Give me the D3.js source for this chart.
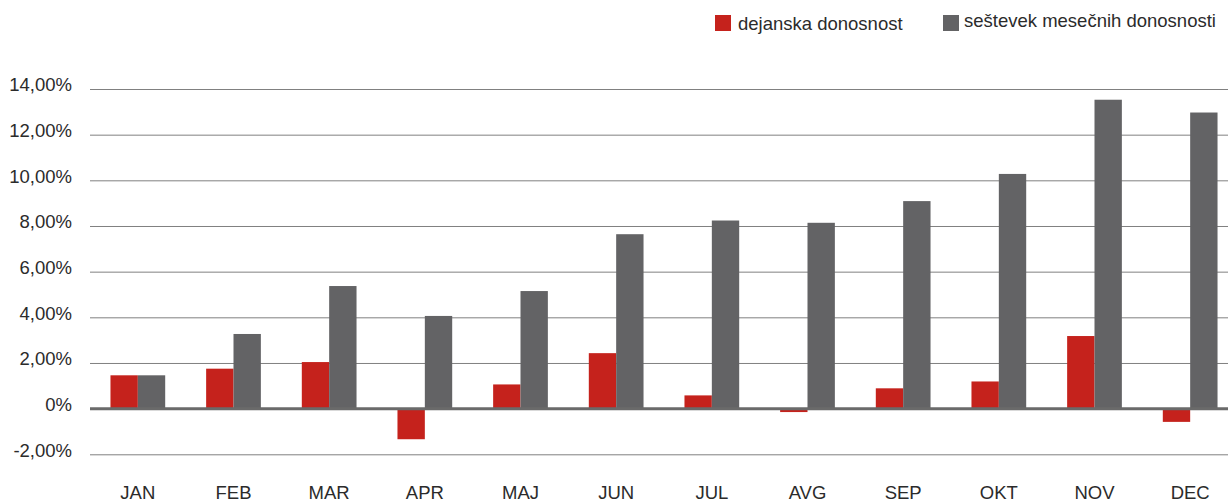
<!DOCTYPE html>
<html>
<head>
<meta charset="utf-8">
<script src="https://cdn.jsdelivr.net/npm/d3@7"></script>
<style>
  body { margin: 0; background: #fff; }
  text { font-family: "Liberation Sans", Arial, sans-serif; fill: #2b2b2b; }
</style>
</head>
<body>
<div id="chart-area"></div>
<script>
// data
var months = ["JAN", "FEB", "MAR", "APR", "MAJ", "JUN", "JUL", "AVG", "SEP", "OKT", "NOV", "DEC"];
var actual = [1.46, 1.75, 2.04, -1.34, 1.06, 2.43, 0.58, -0.15, 0.89, 1.19, 3.18, -0.58];
var summed = [1.46, 3.27, 5.37, 4.06, 5.15, 7.64, 8.24, 8.14, 9.09, 10.28, 13.53, 12.97];
var seriesNames = ["dejanska donosnost", "seštevek mesečnih donosnosti"];
var colors = ["#c5221c", "#636365"];
var yTicks = [-2, 0, 2, 4, 6, 8, 10, 12, 14];

var width = 1228;
var height = 503;
var left = 90;
var right = 1238;

var svg = d3.select("#chart-area").append("svg")
    .attr("width", width)
    .attr("height", height);

var x = d3.scaleBand()
    .domain(months)
    .range([left, right])
    .paddingInner(0.428)
    .paddingOuter(0.214);

var xs = d3.scaleBand()
    .domain([0, 1])
    .range([0, x.bandwidth()]);

var y = d3.scaleLinear()
    .domain([-2, 14])
    .range([454.3, 89]);

// y Axis + gridlines
var yAxisCall = d3.axisLeft(y)
    .tickValues(yTicks)
    .tickSize(-(right - left))
    .tickPadding(18)
    .tickFormat((d) => d === 0 ? "0%" : d.toFixed(2).replace(".", ",") + "%");

var yAxis = svg.append("g")
    .attr("class", "y axis")
    .attr("transform", "translate(" + left + ", 0)")
    .call(yAxisCall);

yAxis.select(".domain").remove();
yAxis.selectAll(".tick line")
    .attr("stroke", "#808080")
    .attr("stroke-width", 1);
yAxis.selectAll(".tick text")
    .attr("y", -4)
    .style("font-size", "18.5px")
    .style("fill", "#2b2b2b");

// bars
var groups = svg.selectAll("g.month")
    .data(months)
    .enter().append("g")
        .attr("class", "month")
        .attr("transform", (d) => "translate(" + x(d) + ", 0)");

groups.selectAll("rect")
    .data((d, i) => [actual[i], summed[i]])
    .enter().append("rect")
        .attr("x", (d, j) => xs(j))
        .attr("y", (d) => y(Math.max(0, d)))
        .attr("width", xs.bandwidth())
        .attr("height", (d) => Math.abs(y(d) - y(0)))
        .attr("fill", (d, j) => colors[j]);

// zero line
svg.append("line")
    .attr("x1", left)
    .attr("x2", right)
    .attr("y1", y(0))
    .attr("y2", y(0))
    .attr("stroke", "#6a6a6a")
    .attr("stroke-width", 3);

// x Axis labels
var xAxisCall = d3.axisBottom(x).tickSize(0).tickPadding(0);
var xAxis = svg.append("g")
    .attr("class", "x axis")
    .attr("transform", "translate(0, 486)")
    .call(xAxisCall);
xAxis.select(".domain").remove();
xAxis.selectAll(".tick text")
    .attr("dy", "0.71em")
    .style("font-size", "18.5px")
    .style("fill", "#2b2b2b");

// legend
var legendX = [715, 943];
var legend = svg.selectAll("g.legend")
    .data(seriesNames)
    .enter().append("g")
        .attr("class", "legend")
        .attr("transform", (d, i) => "translate(" + legendX[i] + ", 15)");

legend.append("rect")
    .attr("width", 16)
    .attr("height", 16)
    .attr("fill", (d, i) => colors[i]);

legend.append("text")
    .attr("x", (d, i) => i === 0 ? 23 : 21)
    .attr("y", (d, i) => i === 0 ? 15 : 12)
    .style("font-size", "18.5px")
    .text((d) => d);
</script>
</body>
</html>
